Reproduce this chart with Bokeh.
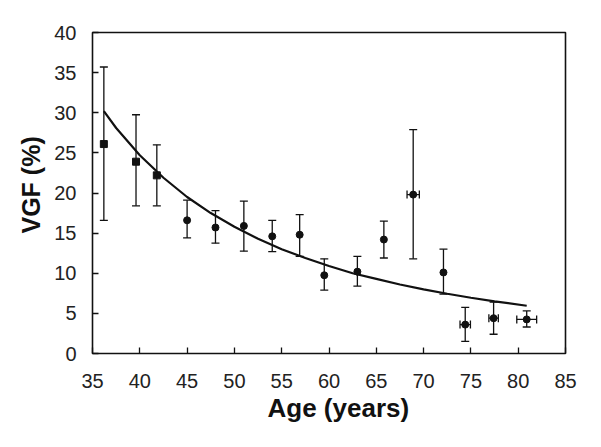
from bokeh.plotting import figure
from bokeh.models import ColumnDataSource, Whisker, TeeHead, FixedTicker, Range1d, Title
from bokeh.embed import file_html
from bokeh.resources import INLINE

# Data
age = [36.2, 39.6, 41.8, 45.0, 48.0, 51.0, 54.0, 56.9, 59.5, 63.0, 65.8, 68.9, 72.1, 74.4, 77.4, 80.9]
vgf = [26.1, 23.9, 22.2, 16.6, 15.7, 15.9, 14.6, 14.8, 9.75, 10.2, 14.2, 19.8, 10.1, 3.6, 4.4, 4.25]
vgf_hi = [35.7, 29.75, 26.0, 19.1, 17.8, 19.0, 16.6, 17.3, 11.8, 12.1, 16.5, 27.9, 13.0, 5.75, 6.4, 5.3]
vgf_lo = [16.6, 18.4, 18.4, 14.4, 13.75, 12.75, 12.7, 12.1, 7.9, 8.4, 11.9, 11.8, 7.4, 1.5, 2.4, 3.3]
age_err = [0, 0, 0, 0, 0, 0, 0, 0, 0, 0, 0, 0.65, 0, 0.55, 0.5, 1.05]
marker_kind = ["square", "square", "square"] + ["circle"] * 13

fit_age = [36.2, 37.5, 40, 42.5, 45, 47.5, 50, 52.5, 55, 57.5, 60, 62.5, 65, 67.5, 70, 72.5, 75, 77.5, 80.9]
fit_vgf = [30.2, 28.1, 24.7, 21.9, 19.5, 17.5, 15.8, 14.3, 13.0, 11.9, 10.9, 10.0, 9.3, 8.6, 8.0, 7.45, 6.95, 6.5, 5.95]

x_ticks = list(range(35, 90, 5))
y_ticks = list(range(0, 45, 5))
x_title = "Age (years)"
y_title = "VGF (%)"

FONT = "Liberation Sans"
INK = "#111111"

p = figure(width=593, height=438, output_backend="svg", toolbar_location=None,
           x_range=Range1d(35, 85), y_range=Range1d(0, 40),
           min_border_left=92, min_border_right=28, min_border_top=32, min_border_bottom=85)
p.grid.visible = False
p.outline_line_color = INK
p.outline_line_width = 1.6
p.background_fill_color = "white"
p.border_fill_color = "white"

src = ColumnDataSource(dict(x=age, y=vgf, hi=vgf_hi, lo=vgf_lo, m=marker_kind))

p.line(fit_age, fit_vgf, line_color=INK, line_width=2.2)

vw = Whisker(source=src, base="x", upper="hi", lower="lo", line_color=INK, line_width=1.3,
             upper_head=TeeHead(size=8, line_color=INK, line_width=1.3),
             lower_head=TeeHead(size=8, line_color=INK, line_width=1.3))
p.add_layout(vw)

hsrc = ColumnDataSource(dict(
    y=[v for v, e in zip(vgf, age_err) if e > 0],
    xl=[a - e for a, e in zip(age, age_err) if e > 0],
    xh=[a + e for a, e in zip(age, age_err) if e > 0],
))
hw = Whisker(source=hsrc, base="y", upper="xh", lower="xl", dimension="width",
             line_color=INK, line_width=1.3,
             upper_head=TeeHead(size=8, line_color=INK, line_width=1.3),
             lower_head=TeeHead(size=8, line_color=INK, line_width=1.3))
p.add_layout(hw)

p.scatter("x", "y", source=src, marker="m", size=7, fill_color=INK, line_color=INK)

for ax in (p.xaxis, p.yaxis):
    ax.axis_line_color = None
    ax.major_tick_in = 6
    ax.major_tick_out = 0
    ax.minor_tick_line_color = None
    ax.major_tick_line_color = INK
    ax.major_tick_line_width = 1.3
    ax.major_label_text_font = FONT
    ax.major_label_text_font_size = "20px"
    ax.major_label_text_color = "#222222"

p.xaxis.ticker = FixedTicker(ticks=x_ticks)
p.yaxis.ticker = FixedTicker(ticks=y_ticks)
p.xaxis.major_label_standoff = 20
p.yaxis.major_label_standoff = 16

xt = Title(text=x_title, align="left", offset=175, standoff=0,
           text_font=FONT, text_font_style="bold", text_font_size="26px", text_color=INK)
p.add_layout(xt, "below")
yt = Title(text=y_title, align="left", offset=120, standoff=14,
           text_font=FONT, text_font_style="bold", text_font_size="25px", text_color=INK)
p.add_layout(yt, "left")

open("out.html", "w").write(file_html(p, INLINE))
